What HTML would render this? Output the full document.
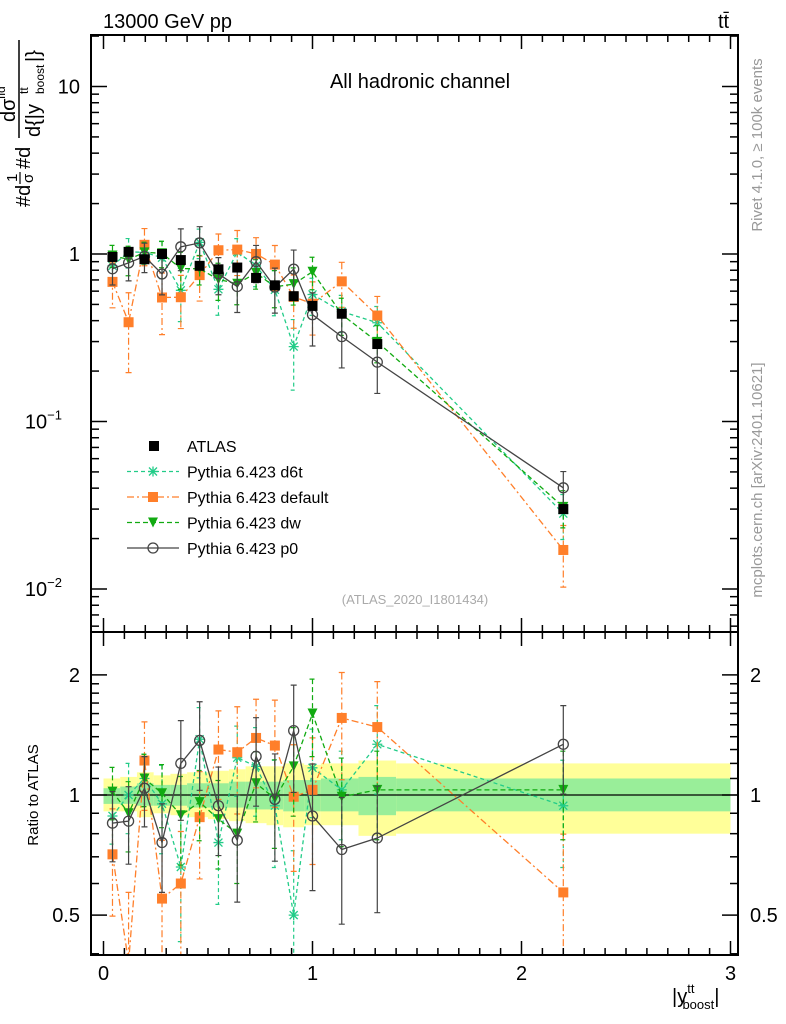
<!DOCTYPE html>
<html><head><meta charset="utf-8"><style>
html,body{margin:0;padding:0;background:#fff;overflow:hidden;width:786px;height:1024px;}
svg{display:block;font-family:"Liberation Sans",sans-serif;}
</style></head><body>
<svg id="c" width="786" height="1024" viewBox="0 0 786 1024" xmlns="http://www.w3.org/2000/svg">
<defs>
<clipPath id="mainClip"><rect x="91" y="35" width="647" height="597"/></clipPath>
<clipPath id="ratioClip"><rect x="91" y="632" width="647" height="323"/></clipPath>
</defs>
<text x="103" y="28" font-size="20">13000 GeV pp</text>
<text x="718" y="28" font-size="20">tt̄</text>
<text x="420" y="88" font-size="20" text-anchor="middle">All hadronic channel</text>
<text x="415" y="604" font-size="13" fill="#aaa" text-anchor="middle">(ATLAS_2020_I1801434)</text>
<text transform="translate(762,145) rotate(-90)" font-size="15" fill="#999" text-anchor="middle">Rivet 4.1.0, ≥ 100k events</text>
<text transform="translate(762,480) rotate(-90)" font-size="15" fill="#999" text-anchor="middle">mcplots.cern.ch [arXiv:2401.10621]</text>
<g transform="rotate(-90)">
<text x="-207" y="30" font-size="20">#d</text>
<text x="-182" y="17" font-size="15">1</text>
<line x1="-184" x2="-172" y1="20" y2="20" stroke="#000" stroke-width="1.2"/>
<text x="-183" y="33" font-size="15">σ</text>
<text x="-169" y="30" font-size="20">#d</text>
<text x="-122" y="15" font-size="20">dσ</text>
<text x="-99" y="5" font-size="12">fid</text>
<line x1="-138" x2="-40" y1="19" y2="19" stroke="#000" stroke-width="1.5"/>
<text x="-137" y="40" font-size="20">d{|y</text>
<text x="-94" y="28" font-size="12">tt</text>
<text x="-94" y="44" font-size="12">boost</text>
<text x="-62" y="40" font-size="20">|}</text>
</g>
<text transform="translate(38,795) rotate(-90)" font-size="15" text-anchor="middle">Ratio to ATLAS</text>
<text x="672" y="1003" font-size="20">|y<tspan font-size="13" dy="-10">tt</tspan><tspan font-size="13" dy="16" dx="-12">boost</tspan><tspan dy="-6">|</tspan></text>
<g id="g"></g>
</svg>
<script>
const binEdges=[0,0.08,0.16,0.24,0.32,0.4,0.5,0.6,0.68,0.78,0.86,0.96,1.04,1.22,1.4,3.0];
const xCenters=[0.043,0.12,0.196,0.28,0.37,0.46,0.55,0.64,0.73,0.82,0.91,1.0,1.14,1.31,2.2];
const atlasVals=[0.96,1.03,0.93,1.0,0.92,0.85,0.81,0.83,0.72,0.65,0.56,0.49,0.44,0.29,0.030];
const bandTotUp=[1.10,1.11,1.14,1.12,1.13,1.14,1.15,1.16,1.18,1.18,1.20,1.19,1.20,1.22,1.20];
const bandTotDn=[0.91,0.91,0.88,0.90,0.89,0.88,0.87,0.86,0.85,0.84,0.83,0.84,0.84,0.79,0.80];
const bandStatUp=[1.04,1.05,1.07,1.06,1.06,1.07,1.07,1.08,1.08,1.08,1.09,1.09,1.10,1.11,1.10];
const bandStatDn=[0.95,0.95,0.94,0.94,0.94,0.93,0.93,0.93,0.92,0.92,0.91,0.91,0.91,0.89,0.91];
const ratioP0=[0.85,0.86,1.04,0.76,1.20,1.37,0.94,0.77,1.25,0.975,1.45,0.886,0.73,0.78,1.34];
const ratioDefault=[0.71,0.38,1.22,0.55,0.60,0.88,1.30,1.28,1.39,1.33,0.99,1.03,1.56,1.48,0.57];
const ratioDw=[1.02,0.90,1.10,1.01,0.89,0.96,0.87,0.80,1.07,0.98,1.18,1.60,0.99,1.03,1.03];
const ratioD6t=[0.886,1.0,1.10,0.95,0.66,1.38,0.76,1.24,1.18,0.94,0.50,1.17,1.03,1.34,0.94];
const errP0=[0.2,0.22,0.2,0.25,0.28,0.25,0.25,0.3,0.25,0.3,0.3,0.35,0.35,0.35,0.25];
const errDefault=[0.3,0.5,0.25,0.4,0.35,0.3,0.25,0.3,0.25,0.3,0.35,0.35,0.3,0.3,0.4];
const errDw=[0.15,0.2,0.15,0.18,0.25,0.2,0.25,0.25,0.2,0.25,0.25,0.22,0.25,0.25,0.25];
const errD6t=[0.15,0.2,0.15,0.25,0.35,0.2,0.3,0.2,0.25,0.3,0.45,0.25,0.25,0.25,0.3];
const xTicks=[0,1,2,3];
const mainTicks=[10,1,0.1,0.01];
const mainTickLabels=["10","1","10","10"];
const mainTickExp=["","","−1","−2"];
const ratioTicks=[2,1,0.5];
const ratioTickLabels=["2","1","0.5"];

const NS="http://www.w3.org/2000/svg";
const G=document.getElementById('g');
const L=91,R=738,T=35,MB=632,RB=955;
const sx=v=>103.5+v*209;
const sy=v=>254-Math.log10(v)*167.5;
const ry=v=>795-Math.log10(v)*399;
function mk(tag,at,parent){const e=document.createElementNS(NS,tag);for(const k in at)e.setAttribute(k,at[k]);(parent||G).appendChild(e);return e;}
const mainG=mk('g',{'clip-path':'url(#mainClip)'});


const ratG=mk('g',{'clip-path':'url(#ratioClip)'});



for(let i=0;i<15;i++){
  const x1=sx(binEdges[i]),x2=sx(binEdges[i+1]);
  const y=mk('rect',{x:x1,y:ry(bandTotUp[i]),width:x2-x1,height:ry(bandTotDn[i])-ry(bandTotUp[i]),fill:'#ffff99'},ratG);
  
  
  const g=mk('rect',{x:x1,y:ry(bandStatUp[i]),width:x2-x1,height:ry(bandStatDn[i])-ry(bandStatUp[i]),fill:'#99ee99'},ratG);
  
  
}
const one=mk('line',{x1:L,x2:R,y1:ry(1),y2:ry(1),stroke:'#000','stroke-width':1.3},ratG);



function marker(par,type,x,y,color){
  let m;
  if(type==='sq'){m=mk('rect',{x:x-5,y:y-5,width:10,height:10,fill:color},par);}
  else if(type==='circ'){m=mk('circle',{cx:x,cy:y,r:5,fill:'none',stroke:color,'stroke-width':1.3},par);}
  else if(type==='tri'){m=mk('path',{d:`M${x-5},${y-5}L${x+5},${y-5}L${x},${y+5}Z`,fill:color},par);}
  else {m=mk('path',{d:`M${x-5},${y}H${x+5}M${x},${y-5}V${y+5}M${x-4},${y-4}L${x+4},${y+4}M${x-4},${y+4}L${x+4},${y-4}`,stroke:color,'stroke-width':1.3},par);}
  return m;
}
const series=[
 {name:'d6t',r:ratioD6t,e:errD6t,color:'#22cc88',dash:'4,3',mk:'star'},
 {name:'default',r:ratioDefault,e:errDefault,color:'#ff7f2a',dash:'7,3,2,3',mk:'sq'},
 {name:'dw',r:ratioDw,e:errDw,color:'#11aa11',dash:'5,3',mk:'tri'},
 {name:'p0',r:ratioP0,e:errP0,color:'#444',dash:'',mk:'circ'}
];
series.forEach(s=>{
  [[mainG,(i,v)=>sy(v*atlasVals[i])],[ratG,(i,v)=>ry(v)]].forEach(([par,fy])=>{
    const pts=s.r.map((v,i)=>sx(xCenters[i])+','+fy(i,v)).join(' ');
    const pl=mk('polyline',{points:pts,fill:'none',stroke:s.color,'stroke-width':1.3,'stroke-dasharray':s.dash},par);
    
    
    s.r.forEach((v,i)=>{
      const x=sx(xCenters[i]);
      const y1=fy(i,v*(1+s.e[i])),y2=fy(i,Math.max(v*(1-s.e[i]),0.01));
      const eb=mk('path',{d:`M${x},${y1}V${y2}M${x-3},${y1}H${x+3}M${x-3},${y2}H${x+3}`,stroke:s.color,'stroke-width':1.2,'stroke-dasharray':s.dash,fill:'none'},par);
      
      
      const m=marker(par,s.mk,x,fy(i,v),s.color);
      
      
    });
  });
});
atlasVals.forEach((v,i)=>{
  const m=marker(mainG,'sq',sx(xCenters[i]),sy(v),'#000');
  
  
});

[[T,MB],[MB,RB]].forEach(([a,b])=>{
  const f=mk('rect',{x:L,y:a,width:R-L,height:b-a,fill:'none',stroke:'#000','stroke-width':2});
  
  
});
const tk=mk('g',{stroke:'#000','stroke-width':1.5});


for(let v=0;v<=3.001;v+=0.1){
  const x=sx(v),maj=Math.abs(v-Math.round(v))<1e-6,len=maj?14:7;
  [T,MB].forEach(y=>{mk('line',{x1:x,x2:x,y1:y,y2:y+len},tk);});
  [MB,RB].forEach(y=>{mk('line',{x1:x,x2:x,y1:y,y2:y-len},tk);});
}
xTicks.forEach(v=>{
  const t=mk('text',{x:sx(v),y:980,'font-size':20,'text-anchor':'middle'});
  t.textContent=v;
  
  
});
for(let d=-3;d<=1;d++){for(let m=1;m<=9;m++){
  const v=m*Math.pow(10,d),y=sy(v);if(y<T||y>MB)continue;
  const len=m===1?16:8;
  mk('line',{x1:L,x2:L+len,y1:y,y2:y},tk);mk('line',{x1:R,x2:R-len,y1:y,y2:y},tk);
}}
mainTicks.forEach((v,i)=>{
  const t=mk('text',{x:mainTickExp[i]?62:80,y:sy(v)+7,'font-size':20,'text-anchor':'end'});
  t.textContent=mainTickLabels[i];
  if(mainTickExp[i]){const e=mk('tspan',{'font-size':13,dy:-9},t);e.textContent=mainTickExp[i];}
  
  
});
[0.4,0.5,0.6,0.7,0.8,0.9,1,1.1,1.2,1.3,1.4,1.5,1.6,1.7,1.8,1.9,2,3].forEach(v=>{
  const y=ry(v);if(y<MB||y>RB)return;
  const maj=(v===0.5||v===1||v===2),len=maj?16:8;
  mk('line',{x1:L,x2:L+len,y1:y,y2:y},tk);mk('line',{x1:R,x2:R-len,y1:y,y2:y},tk);
});
ratioTicks.forEach((v,i)=>{
  [[80,'end'],[750,'start']].forEach(([x,a])=>{
    const t=mk('text',{x:x,y:ry(v)+7,'font-size':20,'text-anchor':a});
    t.textContent=ratioTickLabels[i];
    
    
  });
});
const leg=mk('g',{});


const legNames=['ATLAS','Pythia 6.423 d6t','Pythia 6.423 default','Pythia 6.423 dw','Pythia 6.423 p0'];
legNames.forEach((n,i)=>{
  const y=446+i*25.5;
  const e=mk('g',{},leg);
  
  
  if(i===0){marker(e,'sq',154,y,'#000');}
  else{const s=series[i-1];
    mk('line',{x1:127,x2:179,y1:y,y2:y,stroke:s.color,'stroke-width':1.3,'stroke-dasharray':s.dash},e);
    marker(e,s.mk,153,y,s.color);}
  const t=mk('text',{x:187,y:y+6,'font-size':16},e);t.textContent=n;
});
</script>
</body></html>
